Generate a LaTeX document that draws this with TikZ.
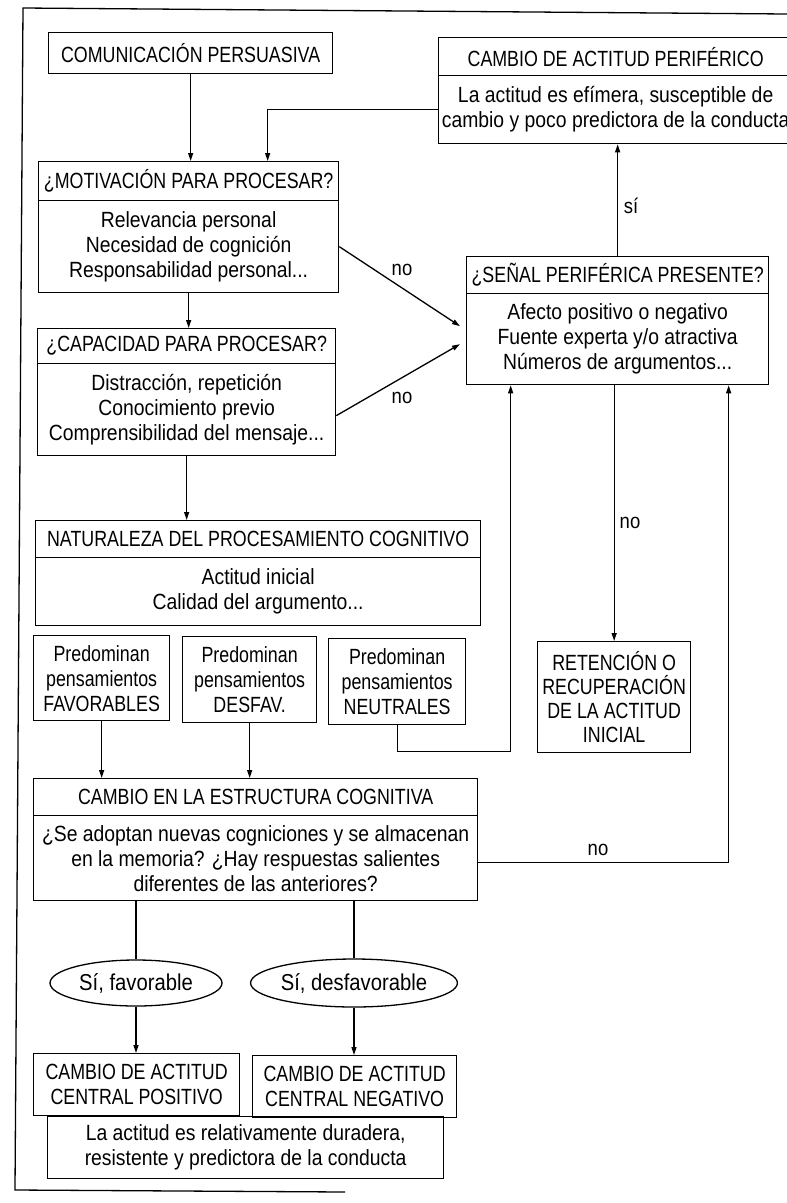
\documentclass[tikz,border=0pt]{standalone}
\usepackage{fontspec}
\setmainfont[FakeStretch=0.81]{Liberation Sans}
\newfontfamily\bodyfam[FakeStretch=0.88]{Liberation Sans}
\usetikzlibrary{arrows.meta,shapes.geometric}
\begin{document}
\begin{tikzpicture}[x=1pt,y=-1pt,
  every node/.style={font=\fontsize{22}{25}\selectfont},
  bx/.style={draw, line width=1.3pt, inner sep=0pt, align=center, anchor=north west},
  bd/.style={bx, font=\bodyfam\fontsize{22}{25}\selectfont},
  lnk/.style={line width=1.3pt},
  arr/.style={lnk, -{Triangle[length=8pt,width=5pt]}},
  lbl/.style={inner sep=0pt, font=\bodyfam\fontsize{21}{25}\selectfont},
  ell/.style={draw, ellipse, line width=1.3pt, inner sep=0pt, font=\bodyfam\fontsize{23}{25}\selectfont}
]
\useasboundingbox (0,0) rectangle (787,1203);
% frame
\draw[lnk] (787,14) -- (23,8) -- (15,1190) -- (345,1192);

\node[bx, minimum width=284pt, minimum height=41pt] (com) at (48,32) {COMUNICACIÓN PERSUASIVA};

\node[bx, minimum width=354pt, minimum height=38pt] (perifT) at (438,37) {CAMBIO DE ACTITUD PERIFÉRICO};
\node[bd, minimum width=354pt, minimum height=68pt] (perifB) at (438,75) {La actitud es efímera, susceptible de\\cambio y poco predictora de la conducta};

\node[bx, minimum width=300pt, minimum height=39pt] (motT) at (38,161) {¿MOTIVACIÓN PARA PROCESAR?};
\node[bd, minimum width=300pt, minimum height=92pt] (motB) at (38,200) {Relevancia personal\\Necesidad de cognición\\Responsabilidad personal...};

\node[bx, minimum width=298pt, minimum height=35pt] (capT) at (37,328) {¿CAPACIDAD PARA PROCESAR?};
\node[bd, minimum width=298pt, minimum height=92pt] (capB) at (37,363) {Distracción, repetición\\Conocimiento previo\\Comprensibilidad del mensaje...};

\node[bx, minimum width=302pt, minimum height=37pt] (senT) at (466,256) {¿SEÑAL PERIFÉRICA PRESENTE?};
\node[bd, minimum width=302pt, minimum height=91pt] (senB) at (466,293) {Afecto positivo o negativo\\Fuente experta y/o atractiva\\Números de argumentos...};

\node[bx, minimum width=445pt, minimum height=37pt] (natT) at (35,520) {NATURALEZA DEL PROCESAMIENTO COGNITIVO};
\node[bd, minimum width=445pt, minimum height=68pt] (natB) at (35,557) {Actitud inicial\\Calidad del argumento...};

\node[bx, minimum width=136pt, minimum height=85pt] (p1) at (33,635) {Predominan\\pensamientos\\FAVORABLES};
\node[bx, minimum width=134pt, minimum height=86pt] (p2) at (182,636) {Predominan\\pensamientos\\DESFAV.};
\node[bx, minimum width=137pt, minimum height=86pt] (p3) at (328,638) {Predominan\\pensamientos\\NEUTRALES};

\node[bx, minimum width=153pt, minimum height=111pt, font=\fontsize{22}{24}\selectfont] (ret) at (537,641) {RETENCIÓN O\\RECUPERACIÓN\\DE LA ACTITUD\\INICIAL};

\node[bx, minimum width=444pt, minimum height=37pt] (ceT) at (33,778) {CAMBIO EN LA ESTRUCTURA COGNITIVA};
\node[bd, minimum width=444pt, minimum height=85pt] (ceB) at (33,815) {¿Se adoptan nuevas cogniciones y se almacenan\\en la memoria? ¿Hay respuestas salientes\\diferentes de las anteriores?};

\node[ell, minimum width=172pt, minimum height=46pt] (e1) at (136,983) {Sí, favorable};
\node[ell, minimum width=176pt, minimum height=48pt] (e2) at (354,983) {Sí, desfavorable};

\node[bx, minimum width=206pt, minimum height=62pt] (cpos) at (33,1053) {CAMBIO DE ACTITUD\\CENTRAL POSITIVO};
\node[bx, minimum width=204pt, minimum height=62pt] (cneg) at (252,1055) {CAMBIO DE ACTITUD\\CENTRAL NEGATIVO};
\node[bd, minimum width=396pt, minimum height=62pt] (dur) at (47,1116) {La actitud es relativamente duradera,\\resistente y predictora de la conducta};

% connectors
\draw[arr] (com.south) -- (com.south |- motT.north);
\draw[arr] (perifB.west) -| ([xshift=79pt]motT.north);
\draw[arr] (senT.north) -- (senT.north |- perifB.south);
\node[lbl] (lsi) at (631,206) {sí};
\draw[arr] (motB.east) -- ([shift={(-6pt,13pt)}]senB.west);
\node[lbl] (lno1) at (402,270) {no};
\draw[arr] ([yshift=-6pt]capB.east) -- ([shift={(-6pt,-5pt)}]senB.west);
\node[lbl] (lno2) at (402,398) {no};
\draw[arr] (motB.south) -- (motB.south |- capT.north);
\draw[arr] (capB.south) -- (capB.south |- natT.north);
\draw[arr] (p1.south) -- (p1.south |- ceT.north);
\draw[arr] (p2.south) -- (p2.south |- ceT.north);
\draw[arr] (p3.south) -- ++(0,26) -| ([xshift=-107pt]senB.south);
\draw[arr] (ret.north |- senB.south) -- (ret.north);
\node[lbl] (lno3) at (630,523) {no};
\draw[arr] ([yshift=-4pt]ceB.east) -| ([xshift=111pt]senB.south);
\node[lbl] (lno4) at (598,850) {no};
\draw[lnk] (e1.north |- ceB.south) -- (e1.north);
\draw[lnk] (e2.north |- ceB.south) -- (e2.north);
\draw[arr] (e1.south) -- (e1.south |- cpos.north);
\draw[arr] (e2.south) -- (e2.south |- cneg.north);
\end{tikzpicture}
\end{document}
